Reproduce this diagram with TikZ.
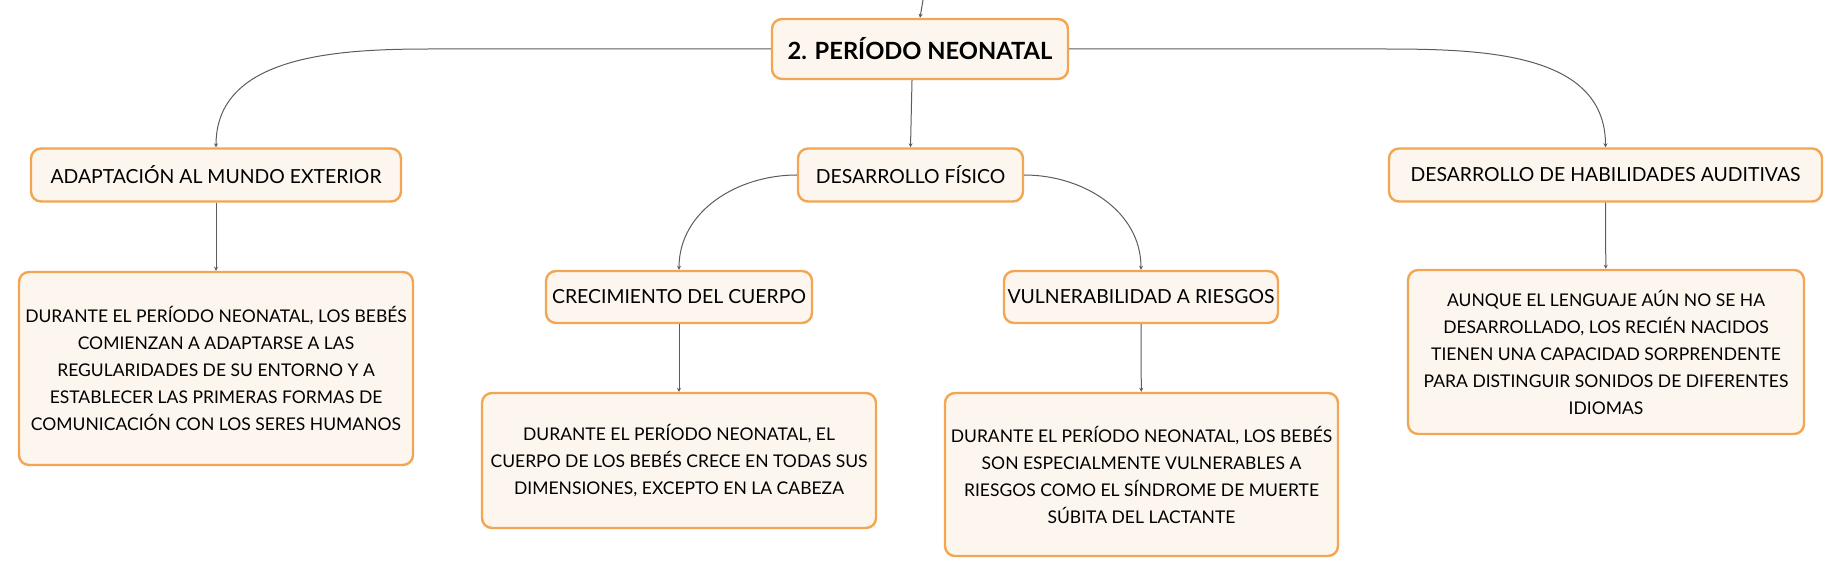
\documentclass[tikz,border=0pt]{standalone}
\usepackage{fontspec}
\setmainfont{Lato}
\usetikzlibrary{arrows.meta, positioning}

\definecolor{boxline}{HTML}{F2A652}
\definecolor{boxfill}{HTML}{FDF6EE}
\definecolor{linkgray}{HTML}{5C5C5C}

\begin{document}
\begin{tikzpicture}[
    x=.5pt, y=-.5pt,
    box/.style={
        draw=boxline, fill=boxfill, line width=1.2pt, rounded corners=5pt,
        align=center, inner sep=0pt
    },
    root/.style={
        box, font=\fontsize{11.85}{14}\selectfont\bfseries,
        minimum width=148pt, minimum height=30pt
    },
    topic/.style={
        box, font=\fontsize{9.7}{12}\selectfont, minimum height=26.5pt
    },
    note/.style={
        box, font=\fontsize{8.75}{13.5}\selectfont
    },
    conn/.style={
        draw=linkgray, line width=.5pt, -{Stealth[length=2pt,width=2pt]}
    }
]
    \useasboundingbox (0,0) rectangle (1840,577);

    \node[root](per) at (920,49){2. PERÍODO NEONATAL};

    \node[topic,minimum width=185pt](adapt) at (216,175){ADAPTACIÓN AL MUNDO EXTERIOR};
    \node[topic,minimum width=112.5pt](fis) at (910.5,175){DESARROLLO FÍSICO};
    \node[topic,minimum width=216.5pt](aud) at (1605.5,175){DESARROLLO DE HABILIDADES AUDITIVAS};
    \node[topic,minimum width=133pt,minimum height=26pt](crec) at (679,297){CRECIMIENTO DEL CUERPO};
    \node[topic,minimum width=137pt,minimum height=26pt](vuln) at (1141,297){VULNERABILIDAD A RIESGOS};

    \node[note,minimum width=197pt,minimum height=96.5pt](adaptTxt) at (216,368.5){
        DURANTE EL PERÍODO NEONATAL, LOS BEBÉS\\
        COMIENZAN A ADAPTARSE A LAS\\
        REGULARIDADES DE SU ENTORNO Y A\\
        ESTABLECER LAS PRIMERAS FORMAS DE\\
        COMUNICACIÓN CON LOS SERES HUMANOS
    };
    \node[note,minimum width=197pt,minimum height=67.5pt](crecTxt) at (679,460.5){
        DURANTE EL PERÍODO NEONATAL, EL\\
        CUERPO DE LOS BEBÉS CRECE EN TODAS SUS\\
        DIMENSIONES, EXCEPTO EN LA CABEZA
    };
    \node[note,minimum width=196.5pt,minimum height=81.5pt](vulnTxt) at (1141.5,474.5){
        DURANTE EL PERÍODO NEONATAL, LOS BEBÉS\\
        SON ESPECIALMENTE VULNERABLES A\\
        RIESGOS COMO EL SÍNDROME DE MUERTE\\
        SÚBITA DEL LACTANTE
    };
    \node[note,minimum width=198pt,minimum height=82pt](audTxt) at (1606,352){
        AUNQUE EL LENGUAJE AÚN NO SE HA\\
        DESARROLLADO, LOS RECIÉN NACIDOS\\
        TIENEN UNA CAPACIDAD SORPRENDENTE\\
        PARA DISTINGUIR SONIDOS DE DIFERENTES\\
        IDIOMAS
    };

    % link from the parent map, off the top edge
    \coordinate (up) at (923,0);
    \draw[conn] (up) to (per.north);

    \draw[conn] (per.west) -- ++(-340,0) to[out=180,in=90] (adapt.north);
    \draw[conn] (per.east) -- ++(300,0) to[out=0,in=90] (aud.north);
    \draw[conn] ([xshift=-4pt]per.south) to (fis.north);

    \draw[conn] (fis.west) to[out=180,in=90] (crec.north);
    \draw[conn] (fis.east) to[out=0,in=90] (vuln.north);

    \draw[conn] (adapt) to (adaptTxt);
    \draw[conn] (crec) to (crecTxt);
    \draw[conn] (vuln) to (vulnTxt);
    \draw[conn] (aud) to (audTxt);

\end{tikzpicture}
\end{document}
